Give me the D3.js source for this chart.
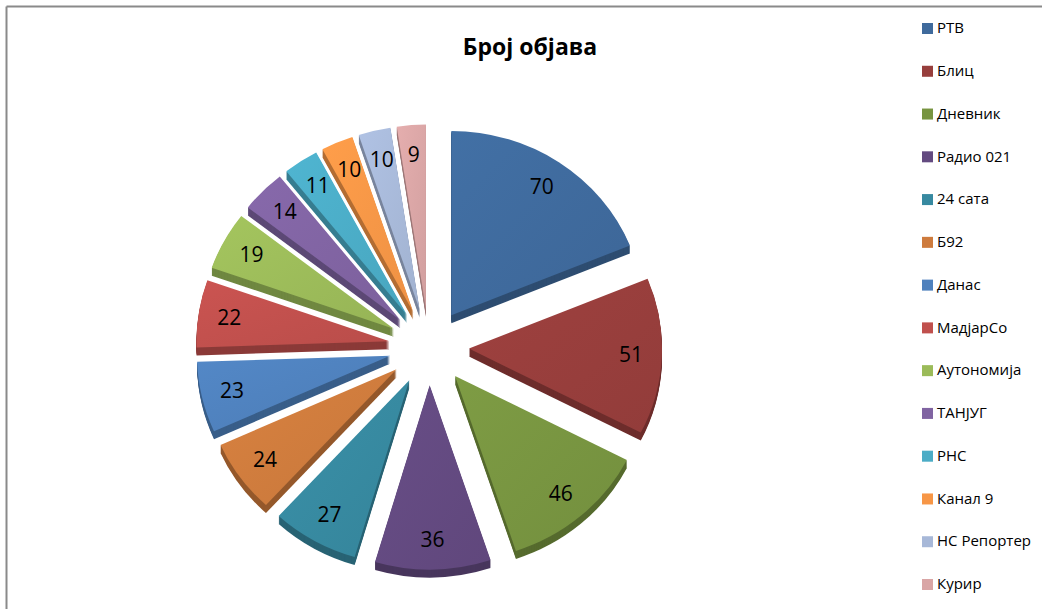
<!DOCTYPE html>
<html><head><meta charset="utf-8">
<script src="https://cdn.jsdelivr.net/npm/d3@7"></script>
<style>
html,body{margin:0;padding:0;background:#fff;}
svg{display:block;}
</style></head>
<body>
<svg id="c" width="1042" height="609"></svg>
<script>
const categories = ["РТВ","Блиц","Дневник","Радио 021","24 сата","Б92","Данас","МадјарСо","Аутономија","ТАНЈУГ","РНС","Канал 9","НС Репортер","Курир"];
const values = [70,51,46,36,27,24,23,22,19,14,11,10,10,9];
const colors = ["#3F6A9C","#973E3C","#779440","#634A80","#3789A0","#CE7B3D","#4F81BD","#C0504D","#9BBB59","#8064A2","#4BACC6","#F79646","#A7B8D8","#D9A5A5"];
const title = "Број објава";

const svg = d3.select("#c");
const W = 1042, H = 609;

// frame
svg.append("line").attr("x1",6.5).attr("y1",6.5).attr("x2",6.5).attr("y2",H).attr("stroke","#8a8a8a").attr("stroke-width",2);
svg.append("line").attr("x1",6.5).attr("y1",6.5).attr("x2",W).attr("y2",6.5).attr("stroke","#8a8a8a").attr("stroke-width",2);

svg.append("text").attr("x",530).attr("y",55).attr("text-anchor","middle")
  .attr("font-family","'Open Sans', sans-serif").attr("font-weight","bold").attr("font-size",23)
  .attr("fill","#000").text(title);

const cx = 429, cy = 347, R = 193, tilt = 0.955, explode = 40, depth = 8;
const pie = d3.pie().sort(null).value(d=>d);
const arcs = pie(values);
const arc = d3.arc().innerRadius(0).outerRadius(R);
const labelArc = d3.arc().innerRadius(R*0.68).outerRadius(R);

const root = svg.append("g").attr("transform",`translate(${cx},${cy}) scale(1,${tilt})`);

const items = arcs.map((a,i)=>{
  const mid = (a.startAngle+a.endAngle)/2;
  const ox = explode*Math.sin(mid), oy = -explode*Math.cos(mid);
  return {a,i,mid,ox,oy};
});
// back to front
const order = items.slice().sort((p,q)=>(p.oy - Math.cos(p.mid)*R*0.3) - (q.oy - Math.cos(q.mid)*R*0.3));

order.forEach(it=>{
  const g = root.append("g").attr("transform",`translate(${it.ox},${it.oy})`);
  const base = d3.color(colors[it.i]);
  const side = base.darker(0.9);
  for(let k=depth;k>=1;k--){
    g.append("path").attr("d",arc(it.a)).attr("transform",`translate(0,${k/tilt})`).attr("fill",side.toString());
  }
  const gid = "gr"+it.i;
  const grad = svg.append("defs").append("linearGradient").attr("id",gid)
    .attr("x1","0").attr("y1","0").attr("x2","1").attr("y2","1");
  grad.append("stop").attr("offset","0").attr("stop-color",base.brighter(0.15).toString());
  grad.append("stop").attr("offset","1").attr("stop-color",base.darker(0.1).toString());
  g.append("path").attr("d",arc(it.a)).attr("fill",`url(#${gid})`);
});

// labels
items.forEach(it=>{
  const c = labelArc.centroid(it.a);
  svg.append("text")
    .attr("x",cx + it.ox + c[0])
    .attr("y",(cy + (it.oy + c[1])*tilt))
    .attr("dy","0.35em")
    .attr("text-anchor","middle")
    .attr("font-family","'Open Sans', sans-serif").attr("font-size",21)
    .attr("fill","#000").text(values[it.i]);
});

// legend
const ly = d3.scaleLinear().domain([0,categories.length-1]).range([28,584]);
const leg = svg.append("g");
categories.forEach((c,i)=>{
  leg.append("rect").attr("x",922).attr("y",ly(i)-5).attr("width",11).attr("height",11).attr("fill",colors[i]);
  leg.append("text").attr("x",937).attr("y",ly(i)).attr("dy","0.35em")
    .attr("font-family","'Open Sans', sans-serif").attr("font-size",15).attr("fill","#000").text(c);
});
</script>
</body></html>
